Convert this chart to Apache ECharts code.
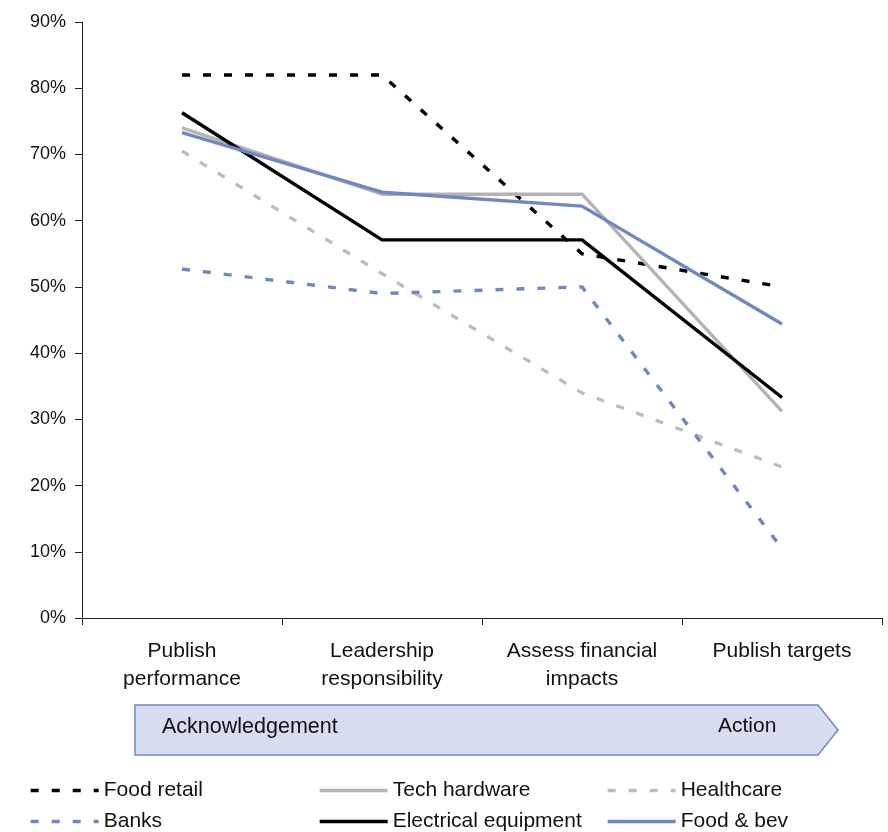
<!DOCTYPE html>
<html>
<head>
<meta charset="utf-8">
<script src="https://cdn.jsdelivr.net/npm/echarts@6/dist/echarts.min.js"></script>
<style>
  html, body { margin: 0; padding: 0; background: #fff; }
  #chart { width: 888px; height: 832px; }
</style>
</head>
<body>
<div id="chart"></div>
<script>
  // data (percent)
  var categories = ['Publish\nperformance', 'Leadership\nresponsibility', 'Assess financial\nimpacts', 'Publish targets'];
  var foodRetail = [82, 82, 55, 50];
  var techHardware = [74, 64, 64, 31.2];
  var healthcare = [70.5, 52, 34, 22.8];
  var banks = [52.7, 49, 50, 10.5];
  var electricalEquipment = [76.3, 57.1, 57.1, 33.3];
  var foodBev = [73.3, 64.3, 62.2, 44.4];
  var yTicks = [0, 10, 20, 30, 40, 50, 60, 70, 80, 90];

  var FONT = '"Liberation Sans", Arial, sans-serif';

  function makeLine(name, data, color, dashed){
    return {
      name: name,
      type: 'line',
      data: data,
      symbol: 'none',
      smooth: false,
      lineStyle: {
        color: color,
        width: 3.4,
        type: dashed ? [8, 13] : 'solid',
        cap: 'butt'
      },
      itemStyle: { color: color },
      emphasis: { disabled: true }
    };
  }

  function makeLegend(left, names){
    return {
      orient: 'vertical',
      left: left,
      top: 780,
      padding: 0,
      width: 280,
      height: 60,
      itemWidth: 68,
      itemHeight: 14,
      itemGap: 10,
      itemStyle: { opacity: 0 },
      lineStyle: { width: 3.4 },
      textStyle: { fontFamily: FONT, fontSize: 21, color: '#111' },
      selectedMode: false,
      data: names
    };
  }

  var chart = echarts.init(document.getElementById('chart'));

  var option = {
    animation: false,
    backgroundColor: '#fff',
    grid: { left: 82, right: 6, top: 22, bottom: 214 },
    xAxis: {
      type: 'category',
      data: categories,
      boundaryGap: true,
      axisLine: { lineStyle: { color: '#222', width: 1 } },
      axisTick: { show: true, length: 7, lineStyle: { color: '#222' } },
      axisLabel: {
        margin: 19,
        fontFamily: FONT,
        fontSize: 21,
        lineHeight: 28,
        color: '#111',
        interval: 0
      }
    },
    yAxis: {
      type: 'value',
      min: yTicks[0],
      max: yTicks[yTicks.length - 1],
      interval: 10,
      splitLine: { show: false },
      axisLine: { show: true, lineStyle: { color: '#222', width: 1 } },
      axisTick: { show: true, length: 7, lineStyle: { color: '#222' } },
      axisLabel: {
        margin: 16,
        fontFamily: FONT,
        fontSize: 18,
        color: '#111',
        formatter: '{value}%'
      }
    },
    legend: [
      makeLegend(29, ['Food retail', 'Banks']),
      makeLegend(318, ['Tech hardware', 'Electrical equipment']),
      makeLegend(606, ['Healthcare', 'Food & bev'])
    ],
    graphic: [
      {
        type: 'polygon',
        shape: { points: [[135, 705], [818, 705], [838, 730], [818, 755], [135, 755]] },
        style: { fill: '#d7ddee', stroke: '#7189c0', lineWidth: 1.5 },
        z: 1
      },
      {
        type: 'text',
        left: 162,
        top: 716,
        style: { text: 'Acknowledgement', font: '21.5px ' + FONT, fill: '#111' },
        z: 2
      },
      {
        type: 'text',
        left: 718,
        top: 716,
        style: { text: 'Action', font: '21px ' + FONT, fill: '#111' },
        z: 2
      }
    ],
    series: [
      makeLine('Food retail', foodRetail, '#000000', true),
      makeLine('Tech hardware', techHardware, '#b4b4b4', false),
      makeLine('Healthcare', healthcare, '#bdbdbd', true),
      makeLine('Banks', banks, '#6f88be', true),
      makeLine('Electrical equipment', electricalEquipment, '#000000', false),
      makeLine('Food & bev', foodBev, '#6f88be', false)
    ]
  };

  chart.setOption(option);
</script>
</body>
</html>
